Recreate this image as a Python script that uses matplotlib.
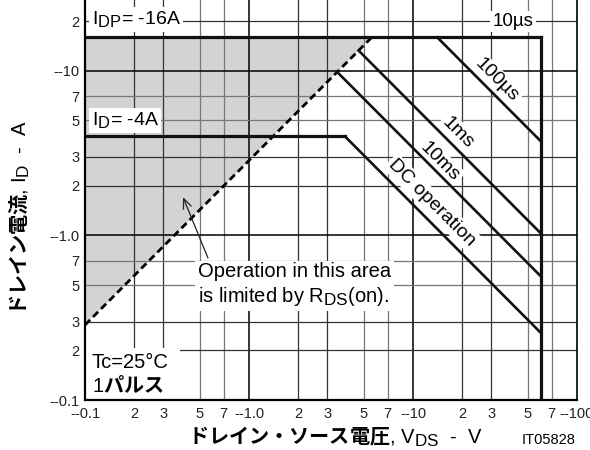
import numpy as np
import matplotlib
matplotlib.use('Agg')
import matplotlib.pyplot as plt
from matplotlib.patches import Polygon, Rectangle
from matplotlib.ticker import NullLocator, FixedLocator, FixedFormatter
import matplotlib._mathtext as _mt

# larger, lower subscripts like the datasheet typography
_mt.SHRINK_FACTOR = 0.85
_mt.FontConstantsBase.sub1 = 0.35
_mt.FontConstantsBase.sub2 = 0.45

# ---------------- data ----------------
I_DP = 16.0          # A, pulsed drain current limit
I_D = 4.0            # A, DC drain current limit
V_DSS = 60.0         # V, drain-source voltage limit
R_ON = 0.35          # ohm, R_DS(on) limit line
pulse_labels = ['100µs', '1ms', '10ms', 'DC operation']
pulse_power = [225.0, 62.0, 34.0, 15.4]   # W, constant V*I for each line
x_ticks = [0.1, 0.2, 0.3, 0.5, 0.7, 1, 2, 3, 5, 7, 10, 20, 30, 50, 70, 100]
x_ticklabels = ['--0.1', '2', '3', '5', '7', '--1.0', '2', '3', '5', '7',
                '--10', '2', '3', '5', '7', '--100']
y_ticks = [0.1, 0.2, 0.3, 0.5, 0.7, 1, 2, 3, 5, 7, 10, 20]
y_ticklabels = ['--0.1', '2', '3', '5', '7', '--1.0', '2', '3', '5', '7',
                '--10', '2']
X_MIN, X_MAX = 0.1, 100.0
Y_MIN, Y_MAX = 0.1, 27.0

plt.rcParams['font.family'] = ['Liberation Sans', 'Noto Sans CJK JP']
plt.rcParams['mathtext.fontset'] = 'custom'
plt.rcParams['mathtext.rm'] = 'Liberation Sans'
plt.rcParams['mathtext.it'] = 'Liberation Sans:italic'
plt.rcParams['mathtext.bf'] = 'Noto Sans CJK JP:bold'

fig = plt.figure(figsize=(5.9, 4.5), dpi=100)
ax = fig.add_axes([85/590, 50/450, 492/590, 400/450])
ax.set_xscale('log')
ax.set_yscale('log')
ax.set_xlim(X_MIN, X_MAX)
ax.set_ylim(Y_MIN, Y_MAX)

# ticks
ax.xaxis.set_major_locator(FixedLocator(x_ticks))
ax.xaxis.set_major_formatter(FixedFormatter(x_ticklabels))
ax.yaxis.set_major_locator(FixedLocator(y_ticks))
ax.yaxis.set_major_formatter(FixedFormatter(y_ticklabels))
ax.xaxis.set_minor_locator(NullLocator())
ax.yaxis.set_minor_locator(NullLocator())
ax.tick_params(length=0, labelsize=10.5, colors='#222222')
ax.tick_params(axis='x', pad=5)
ax.tick_params(axis='y', pad=4)

# grid
for v in x_ticks[1:-1]:
    dec = abs(np.log10(v) - round(np.log10(v))) < 1e-6
    lead = round(v / 10 ** np.floor(np.log10(v) + 1e-9))
    col = 'black' if dec else ('#333333' if lead in (2, 3) else '#777777')
    ax.axvline(v, color=col, lw=1.1 if dec else 0.9, zorder=1)
for v in y_ticks[1:]:
    dec = abs(np.log10(v) - round(np.log10(v))) < 1e-6
    lead = round(v / 10 ** np.floor(np.log10(v) + 1e-9))
    col = 'black' if dec else ('#333333' if lead in (2, 3) else '#777777')
    ax.axhline(v, color=col, lw=1.1 if dec else 0.9, zorder=1)

for s in ['left', 'bottom']:
    ax.spines[s].set_linewidth(1.6)
ax.spines['right'].set_linewidth(1.2)
ax.spines['top'].set_visible(False)
for s in ax.spines.values():
    s.set_zorder(5)

# gray R_DS(on) limited area
v_top = I_DP * R_ON
gray = Polygon([[X_MIN, X_MIN / R_ON], [X_MIN, I_DP], [v_top, I_DP]],
               closed=True, facecolor='#d3d3d3', edgecolor='none', zorder=0.5)
ax.add_patch(gray)

# R_DS(on) dashed line
ax.plot([X_MIN, v_top], [X_MIN / R_ON, I_DP], color='black', lw=2.0,
        linestyle=(0, (2.6, 1.5)), zorder=3, solid_capstyle='butt')

# 10us boundary: I_DP line and V_DSS line
ax.plot([X_MIN, V_DSS], [I_DP, I_DP], color='#111111', lw=2.3, zorder=3)
ax.plot([V_DSS, V_DSS], [I_DP, Y_MIN], color='#111111', lw=2.3, zorder=3)

# pulse / DC lines
for lab, P in zip(pulse_labels, pulse_power):
    if lab == 'DC operation':
        v0 = P / I_D
        ax.plot([X_MIN, v0], [I_D, I_D], color='#111111', lw=2.3, zorder=3)
    else:
        v0 = max(np.sqrt(P * R_ON), P / I_DP)
    ax.plot([v0, V_DSS], [P / v0, P / V_DSS], color='#111111', lw=1.9, zorder=3)

wbox = dict(boxstyle='square,pad=0.12', fc='white', ec='none')

ax.text(0.110, 20.5, r'I$_{\mathrm{DP}}$= -16A', fontsize=14, ha='left',
        va='center', bbox=wbox, zorder=2.5)
ax.text(0.110, 5.0, r'I$_{\mathrm{D}}$= -4A', fontsize=14, ha='left',
        va='center', bbox=wbox, zorder=2.5)
ax.text(40.7, 20.0, '10µs', fontsize=13.5, ha='center', va='center',
        bbox=wbox, zorder=2.5)

label_pos = {'100µs': (32.5, 8.8), '1ms': (18.8, 4.2),
             '10ms': (14.6, 2.8), 'DC operation': (13.1, 1.58)}
for lab in pulse_labels:
    x, y = label_pos[lab]
    ax.text(x, y, lab, fontsize=14, rotation=-45, rotation_mode='anchor',
            ha='center', va='center', bbox=wbox, zorder=2.5)

ax.text(0.489, 0.50, 'Operation in this area\nis limited by R$_{\\mathrm{DS}}$(on).',
        fontsize=14.5, ha='left', va='center', linespacing=1.25,
        bbox=dict(boxstyle='square,pad=0.15', fc='white', ec='none'), zorder=2.5)
ax.annotate('', xy=(0.396, 1.71), xytext=(0.562, 0.73),
            arrowprops=dict(arrowstyle='->,head_length=0.7,head_width=0.3',
                            color='#222222', lw=0.9, shrinkA=0, shrinkB=0),
            zorder=3)

ax.add_patch(Rectangle((0, 0), 95/492, 52/400, transform=ax.transAxes,
                       facecolor='white', edgecolor='none', zorder=2))
ax.text(0.110, 0.168, 'Tc=25°C', fontsize=14.5, ha='left', va='center', zorder=2.5)
ax.text(0.110, 0.123, r'1$\mathbf{パルス}$', fontsize=14.5, ha='left',
        va='center', zorder=2.5)

# axis labels
fig.text(20/590, 0.5 + 8/450, r'$\mathbf{ドレイン電流}$, I$_{\mathrm{D}}$  -  A',
         rotation=90, fontsize=14.5, ha='center', va='center')
fig.text(335/590, 13/450, r'$\mathbf{ドレイン・ソース電圧}$, V$_{\mathrm{DS}}$  -  V',
         fontsize=14.5, ha='center', va='center')
fig.text(549/590, 10/450, 'IT05828', fontsize=10.5, ha='center', va='center')

fig.savefig('out.png', dpi=100)
